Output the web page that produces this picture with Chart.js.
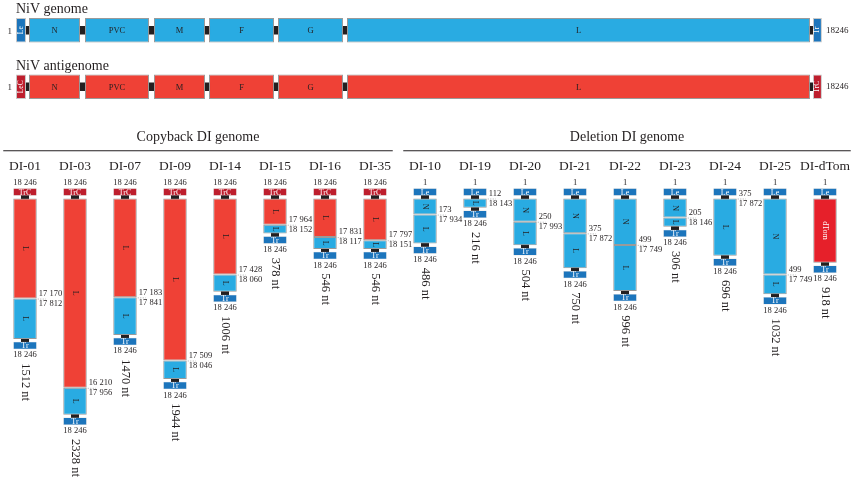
<!DOCTYPE html>
<html>
<head>
<meta charset="utf-8">
<script src="https://cdn.jsdelivr.net/npm/chart.js@4.4.1/dist/chart.umd.min.js"></script>
<style>
  html, body { margin: 0; padding: 0; background: #fff; }
  #wrap { width: 856px; height: 477px; position: relative; }
  .box { position: absolute; left: 0; width: 856px; }
</style>
</head>
<body>
<div id="wrap">
  <div class="box" style="top:0;height:116px"><canvas id="mapChart"></canvas></div>
  <div class="box" style="top:116px;height:361px"><canvas id="diChart"></canvas></div>
</div>
<script>
// genome / antigenome maps (positions in nt, as drawn in the figure)
const mapRows = ['NiV genome', 'NiV antigenome'];
const geneNames = ['N', 'PVC', 'M', 'F', 'G', 'L'];
const geneStart = [294, 1562, 3124, 4370, 5932, 7494];
const geneEnd = [1449, 3011, 4279, 5841, 7403, 17976];
const leaderEnd = 226;
const trailerStart = 18044;
const genomeLength = 18246;
const leaderNames = ['Le', 'LeC'];
const trailerNames = ['Tr', 'TrC'];

// DI genomes
const diNames = ['DI-01', 'DI-03', 'DI-07', 'DI-09', 'DI-14', 'DI-15', 'DI-16', 'DI-35',
  'DI-10', 'DI-19', 'DI-20', 'DI-21', 'DI-22', 'DI-23', 'DI-24', 'DI-25', 'DI-dTom'];
const diKind = ['copyback', 'copyback', 'copyback', 'copyback', 'copyback', 'copyback', 'copyback', 'copyback',
  'deletion', 'deletion', 'deletion', 'deletion', 'deletion', 'deletion', 'deletion', 'deletion', 'reporter'];
const firstLen = [1076, 2036, 1063, 1742, 818, 282, 415, 449, 173, 0, 250, 375, 499, 205, 0, 817, 690];
const secondLen = [434, 290, 405, 200, 186, 94, 129, 95, 312, 100, 253, 374, 497, 100, 615, 212, 0];
const firstName = ['L', 'L', 'L', 'L', 'L', 'L', 'L', 'L', 'N', '', 'N', 'N', 'N', 'N', '', 'N', 'dTom'];
const secondName = ['L', 'L', 'L', 'L', 'L', 'L', 'L', 'L', 'L', 'L', 'L', 'L', 'L', 'L', 'L', 'L', ''];
const breakUpper = ['17 170', '16 210', '17 183', '17 509', '17 428', '17 964', '17 831', '17 797',
  '173', '112', '250', '375', '499', '205', '375', '499', ''];
const breakLower = ['17 812', '17 956', '17 841', '18 046', '18 060', '18 152', '18 117', '18 151',
  '17 934', '18 143', '17 993', '17 872', '17 749', '18 146', '17 872', '17 749', ''];
const diSize = ['1512 nt', '2328 nt', '1470 nt', '1944 nt', '1006 nt', '378 nt', '546 nt', '546 nt',
  '486 nt', '216 nt', '504 nt', '750 nt', '996 nt', '306 nt', '696 nt', '1032 nt', '918 nt'];
const sectionNames = ['Copyback DI genome', 'Deletion DI genome'];
const sectionFirst = [0, 8];
const sectionLast = [7, 16];

const lightBlue = '#29abe2';
const darkBlue = '#1c75bc';
const red = '#ef4136';
const darkRed = '#be1e2d';
const dTomRed = '#e6202a';
const black = '#231f20';
const edge = '#9a9a9a';
const ink = '#231f20';
const serif = '"Liberation Serif", "DejaVu Serif", serif';

// terminal box and junction heights in nt units of the DI scale
const BOX = 80;
const GAP = 30;

const mapText = {
  id: 'mapText',
  afterDatasetsDraw(chart) {
    const { ctx, scales: { x, y } } = chart;
    ctx.save();
    mapRows.forEach((row, r) => {
      const cy = y.getPixelForValue(r);
      const x0 = x.getPixelForValue(0);
      const x1 = x.getPixelForValue(genomeLength);
      ctx.fillStyle = ink;
      ctx.font = '14px ' + serif;
      ctx.textAlign = 'left';
      ctx.textBaseline = 'alphabetic';
      ctx.fillText(row, x0, cy - 17);

      ctx.font = '9px ' + serif;
      ctx.textBaseline = 'middle';
      ctx.textAlign = 'right';
      ctx.fillText('1', x0 - 4, cy + 1);
      ctx.textAlign = 'left';
      ctx.fillText(String(genomeLength), x1 + 4, cy);

      ctx.font = '8.5px ' + serif;
      ctx.textAlign = 'center';
      geneNames.forEach((g, i) => {
        ctx.fillText(g, x.getPixelForValue((geneStart[i] + geneEnd[i]) / 2), cy + 1);
      });

      ctx.fillStyle = '#fff';
      ctx.font = '7.5px ' + serif;
      [[0, leaderEnd, leaderNames[r]], [trailerStart, genomeLength, trailerNames[r]]].forEach(([a, b, t]) => {
        ctx.save();
        ctx.translate(x.getPixelForValue((a + b) / 2), cy);
        ctx.rotate(-Math.PI / 2);
        ctx.fillText(t, 0, 0);
        ctx.restore();
      });
    });
    ctx.restore();
  }
};

new Chart(document.getElementById('mapChart'), {
  type: 'bar',
  data: {
    labels: mapRows,
    datasets: [
      ...geneNames.map((g, i) => ({
        label: g,
        data: mapRows.map(() => [geneStart[i], geneEnd[i]]),
        backgroundColor: [lightBlue, red],
        borderColor: edge,
        borderWidth: 1,
        borderSkipped: false,
        grouped: false,
        barPercentage: 0.43,
        categoryPercentage: 1,
        order: 0
      })),
      {
        label: 'leader',
        data: mapRows.map(() => [0, leaderEnd]),
        backgroundColor: [darkBlue, darkRed],
        borderColor: '#c8c8c8',
        borderWidth: 1,
        borderSkipped: false,
        grouped: false,
        barPercentage: 0.43,
        categoryPercentage: 1,
        order: 0
      },
      {
        label: 'trailer',
        data: mapRows.map(() => [trailerStart, genomeLength]),
        backgroundColor: [darkBlue, darkRed],
        borderColor: '#c8c8c8',
        borderWidth: 1,
        borderSkipped: false,
        grouped: false,
        barPercentage: 0.43,
        categoryPercentage: 1,
        order: 0
      },
      {
        label: 'junctions',
        data: mapRows.map(() => [leaderEnd - 40, trailerStart + 40]),
        backgroundColor: black,
        grouped: false,
        barPercentage: 0.15,
        categoryPercentage: 1,
        order: 5
      }
    ]
  },
  options: {
    indexAxis: 'y',
    responsive: true,
    maintainAspectRatio: false,
    animation: false,
    layout: { padding: { top: 2, bottom: 1, left: 0, right: 0 } },
    plugins: { legend: { display: false }, tooltip: { enabled: false } },
    scales: {
      x: { type: 'linear', display: false, min: -362, max: 19018 },
      y: { display: false }
    }
  },
  plugins: [mapText]
});

const totalLen = firstLen.map((v, i) => v + secondLen[i]);

const diText = {
  id: 'diText',
  afterDatasetsDraw(chart) {
    const { ctx, scales: { y } } = chart;
    const boxes = chart.getDatasetMeta(0).data;
    const topY = y.getPixelForValue(-(GAP + BOX));
    ctx.save();
    ctx.fillStyle = ink;
    ctx.strokeStyle = ink;

    // section headers with rules
    sectionNames.forEach((name, s) => {
      const a = boxes[sectionFirst[s]];
      const b = boxes[sectionLast[s]];
      const left = a.x - a.width / 2 - 10;
      const right = Math.min(b.x + b.width / 2 + (s === 0 ? 6 : 14), chart.width - 2);
      const ly = topY - 38;
      ctx.lineWidth = 1;
      ctx.beginPath();
      ctx.moveTo(left, ly + 0.5);
      ctx.lineTo(right, ly + 0.5);
      ctx.stroke();
      ctx.font = '14px ' + serif;
      ctx.textAlign = 'center';
      ctx.textBaseline = 'alphabetic';
      ctx.fillText(name, (left + right) / 2, ly - 9);
    });

    diNames.forEach((name, i) => {
      const bar = boxes[i];
      const cx = bar.x;
      const rightEdge = cx + bar.width / 2;
      const total = totalLen[i];

      ctx.fillStyle = ink;
      ctx.textAlign = 'center';
      ctx.textBaseline = 'middle';
      ctx.font = '13.5px ' + serif;
      ctx.fillText(name, cx, topY - 22);

      ctx.font = '8.5px ' + serif;
      ctx.fillText(diKind[i] === 'copyback' ? '18 246' : '1', cx, topY - 5);
      const botY = y.getPixelForValue(total + GAP + BOX);
      ctx.fillText('18 246', cx, botY + 6);

      // terminal box labels
      ctx.fillStyle = '#fff';
      ctx.font = '8px ' + serif;
      ctx.fillText(diKind[i] === 'copyback' ? 'TrC' : 'Le', cx, y.getPixelForValue(-GAP - BOX / 2) + 0.5);
      ctx.fillText('Tr', cx, y.getPixelForValue(total + GAP + BOX / 2) + 0.5);

      // segment names, rotated
      const segs = [[0, firstLen[i], firstName[i]], [firstLen[i], total, secondName[i]]];
      segs.forEach(([a, b, t]) => {
        if (!t || b <= a) return;
        ctx.save();
        ctx.fillStyle = t === 'dTom' ? '#fff' : ink;
        ctx.font = '8px ' + serif;
        ctx.translate(cx, y.getPixelForValue((a + b) / 2));
        ctx.rotate(Math.PI / 2);
        ctx.fillText(t, 0, 0);
        ctx.restore();
      });

      // breakpoint labels
      if (breakUpper[i]) {
        const by = y.getPixelForValue(firstLen[i]);
        ctx.fillStyle = ink;
        ctx.font = '8.5px ' + serif;
        ctx.textAlign = 'left';
        ctx.fillText(breakUpper[i], rightEdge + 2, by - 5);
        ctx.fillText(breakLower[i], rightEdge + 2, by + 5);
        ctx.save();
        ctx.strokeStyle = '#9a9a9a';
        ctx.setLineDash([1, 1.5]);
        ctx.lineWidth = 0.8;
        ctx.beginPath();
        ctx.moveTo(rightEdge + 1, by + 0.5);
        ctx.lineTo(rightEdge + 9, by + 0.5);
        ctx.stroke();
        ctx.restore();
      }

      // total length, rotated
      ctx.save();
      ctx.fillStyle = ink;
      ctx.font = '12.5px ' + serif;
      ctx.textAlign = 'left';
      ctx.textBaseline = 'middle';
      ctx.translate(cx, botY + 14);
      ctx.rotate(Math.PI / 2);
      ctx.fillText(diSize[i], 0, 0);
      ctx.restore();
    });
    ctx.restore();
  }
};

const barBase = { grouped: false, categoryPercentage: 1, barPercentage: 0.47, borderSkipped: false };

new Chart(document.getElementById('diChart'), {
  type: 'bar',
  data: {
    labels: diNames,
    datasets: [
      {
        ...barBase,
        label: 'start box',
        data: diNames.map(() => [-(GAP + BOX), -GAP]),
        backgroundColor: diKind.map(k => k === 'copyback' ? darkRed : darkBlue),
        borderColor: '#d0d0d0',
        borderWidth: 0.5,
        order: 0
      },
      {
        ...barBase,
        label: 'segment 1',
        data: firstLen.map(v => v > 0 ? [0, v] : null),
        backgroundColor: diKind.map(k => k === 'copyback' ? red : (k === 'reporter' ? dTomRed : lightBlue)),
        borderColor: edge,
        borderWidth: 1,
        order: 0
      },
      {
        ...barBase,
        label: 'segment 2',
        data: secondLen.map((v, i) => v > 0 ? [firstLen[i], firstLen[i] + v] : null),
        backgroundColor: lightBlue,
        borderColor: edge,
        borderWidth: 1,
        order: 0
      },
      {
        ...barBase,
        label: 'end box',
        data: totalLen.map(t => [t + GAP, t + GAP + BOX]),
        backgroundColor: darkBlue,
        borderColor: '#d0d0d0',
        borderWidth: 0.5,
        order: 0
      },
      {
        ...barBase,
        label: 'start junction',
        data: diNames.map(() => [-GAP - 8, 8]),
        backgroundColor: black,
        barPercentage: 0.16,
        order: 5
      },
      {
        ...barBase,
        label: 'end junction',
        data: totalLen.map(t => [t - 8, t + GAP + 8]),
        backgroundColor: black,
        barPercentage: 0.16,
        order: 5
      }
    ]
  },
  options: {
    responsive: true,
    maintainAspectRatio: false,
    animation: false,
    layout: { padding: { left: 0, right: 6, top: 0, bottom: 0 } },
    plugins: { legend: { display: false }, tooltip: { enabled: false } },
    scales: {
      x: { display: false, offset: true },
      y: { display: false, reverse: true, min: -887, max: 2995 }
    }
  },
  plugins: [diText]
});
</script>
</body>
</html>
